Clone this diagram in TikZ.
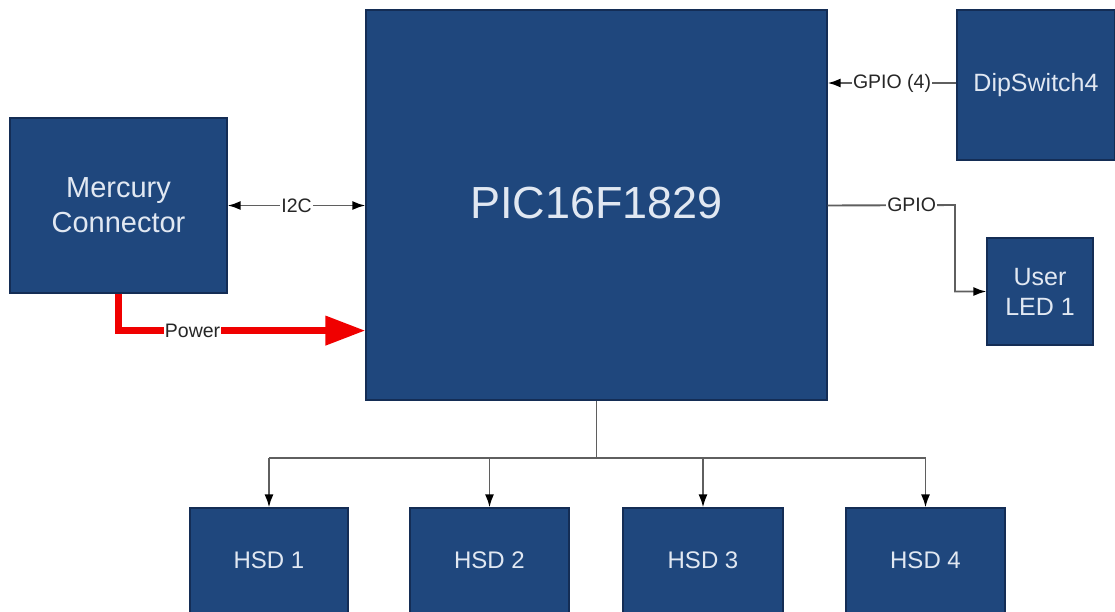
\documentclass[tikz,border=0pt]{standalone}
\usepackage{fontspec}
\setmainfont{Liberation Sans}
\usetikzlibrary{arrows.meta,positioning,calc}
\definecolor{boxblue}{RGB}{31,71,125}
\definecolor{boxedge}{RGB}{20,45,85}
\definecolor{boxtext}{RGB}{225,232,242}
\definecolor{linegray}{RGB}{95,95,95}
\definecolor{pwr}{RGB}{240,0,0}
\tikzset{
  blk/.style={draw=boxedge, line width=1.2pt, fill=boxblue, text=boxtext, align=center, inner sep=0pt},
  conn/.style={draw=linegray, line width=1.9pt, -{Latex[length=13pt,width=9pt,color=black]}},
  biconn/.style={draw=linegray, line width=1.9pt, {Latex[length=13pt,width=9pt,color=black]}-{Latex[length=13pt,width=9pt,color=black]}},
  plain/.style={draw=linegray, line width=1.9pt},
  lbl/.style={fill=white, inner sep=1pt, font=\fontsize{19.5}{22}\selectfont, text=black!85},
  power/.style={draw=pwr, line width=7pt, -{Triangle[length=40pt,width=28pt]}}
}
\begin{document}
\begin{tikzpicture}[x=1pt,y=-1pt]
\useasboundingbox (0,0) rectangle (1115,611);
\clip (0,0) rectangle (1115,611);
\fill[white] (0,0) rectangle (1115,611);
% blocks
\node[blk, minimum width=461pt, minimum height=390pt, font=\fontsize{45}{50}\selectfont] (pic) at (596.5,205) {\raisebox{5pt}{PIC16F1829}};
\node[blk, minimum width=217pt, minimum height=175pt, font=\fontsize{29}{35}\selectfont] (merc) at (118.5,205.5) {Mercury\\Connector};
\node[blk, minimum width=158pt, minimum height=150pt, font=\fontsize{25}{28}\selectfont] (dip) at (1036,85) {DipSwitch4};
\node[blk, minimum width=106pt, minimum height=107pt, font=\fontsize{25}{30}\selectfont] (led) at (1040,291.5) {User\\LED 1};
\node[blk, minimum width=158pt, minimum height=108pt, font=\fontsize{24}{28}\selectfont] (hsd1) at (269,562) {\raisebox{3pt}{HSD 1}};
\node[blk, minimum width=159pt, minimum height=108pt, font=\fontsize{24}{28}\selectfont] (hsd2) at (489.5,562) {\raisebox{3pt}{HSD 2}};
\node[blk, minimum width=160pt, minimum height=108pt, font=\fontsize{24}{28}\selectfont] (hsd3) at (703,562) {\raisebox{3pt}{HSD 3}};
\node[blk, minimum width=159pt, minimum height=108pt, font=\fontsize{24}{28}\selectfont] (hsd4) at (925.5,562) {\raisebox{3pt}{HSD 4}};
% I2C
\draw[biconn] (merc.east) -- node[lbl]{I2C} (merc.east -| pic.west);
% Power
\coordinate (pbend) at ($(merc.south)+(0,37)$);
\draw[power] (merc.south) -- (pbend) -- node[lbl, pos=0.3]{Power} (pbend -| pic.west);
% GPIO (4)
\draw[conn] ([yshift=2pt]dip.west) -- node[lbl]{GPIO (4)} ([yshift=2pt]dip.west -| pic.east);
% GPIO to LED
\coordinate (gstart) at (pic.east |- merc.east);
\coordinate (gbend) at (955,205);
\draw[conn] (gstart) -- node[lbl, pos=0.66]{GPIO} (gbend) -- (gbend |- led.west) -- (led.west);
% bus to HSDs
\coordinate (bus) at ($(pic.south)+(0,57)$);
\draw[plain] (pic.south) -- (bus);
\draw[plain] (bus -| hsd1.north) -- (bus -| hsd4.north);
\draw[conn] (bus -| hsd1.north) -- (hsd1.north);
\draw[conn] (bus -| hsd2.north) -- (hsd2.north);
\draw[conn] (bus -| hsd3.north) -- (hsd3.north);
\draw[conn] (bus -| hsd4.north) -- (hsd4.north);
\end{tikzpicture}
\end{document}
